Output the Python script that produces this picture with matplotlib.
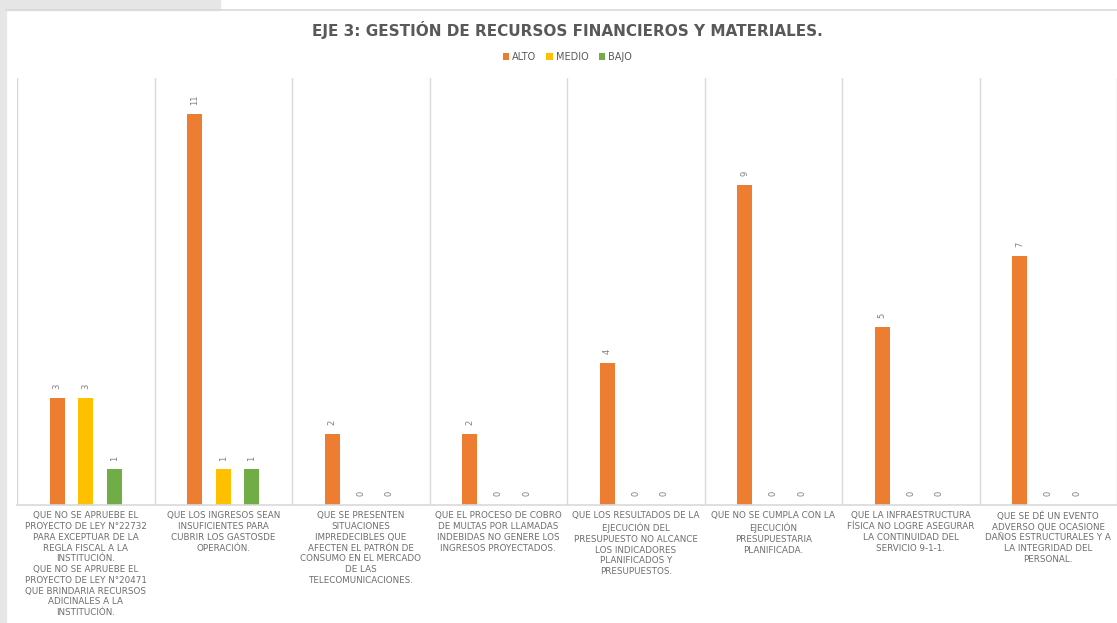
import matplotlib.pyplot as plt
import numpy as np

# chart data
categorias = [
    "QUE NO SE APRUEBE EL\nPROYECTO DE LEY N°22732\nPARA EXCEPTUAR DE LA\nREGLA FISCAL A LA\nINSTITUCIÓN.\nQUE NO SE APRUEBE EL\nPROYECTO DE LEY N°20471\nQUE BRINDARIA RECURSOS\nADICINALES A LA\nINSTITUCIÓN.",
    "QUE LOS INGRESOS SEAN\nINSUFICIENTES PARA\nCUBRIR LOS GASTOSDE\nOPERACIÓN.",
    "QUE SE PRESENTEN\nSITUACIONES\nIMPREDECIBLES QUE\nAFECTEN EL PATRÓN DE\nCONSUMO EN EL MERCADO\nDE LAS\nTELECOMUNICACIONES.",
    "QUE EL PROCESO DE COBRO\nDE MULTAS POR LLAMADAS\nINDEBIDAS NO GENERE LOS\nINGRESOS PROYECTADOS.",
    "QUE LOS RESULTADOS DE LA\nEJECUCIÓN DEL\nPRESUPUESTO NO ALCANCE\nLOS INDICADORES\nPLANIFICADOS Y\nPRESUPUESTOS.",
    "QUE NO SE CUMPLA CON LA\nEJECUCIÓN\nPRESUPUESTARIA\nPLANIFICADA.",
    "QUE LA INFRAESTRUCTURA\nFÍSICA NO LOGRE ASEGURAR\nLA CONTINUIDAD DEL\nSERVICIO 9-1-1.",
    "QUE SE DÉ UN EVENTO\nADVERSO QUE OCASIONE\nDAÑOS ESTRUCTURALES Y A\nLA INTEGRIDAD DEL\nPERSONAL.",
]
alto = [3, 11, 2, 2, 4, 9, 5, 7]
medio = [3, 1, 0, 0, 0, 0, 0, 0]
bajo = [1, 1, 0, 0, 0, 0, 0, 0]

series = [("ALTO", alto, "#ED7D31"), ("MEDIO", medio, "#FFC000"), ("BAJO", bajo, "#70AD47")]

fig = plt.figure(figsize=(11.17, 6.23), dpi=100)
fig.patch.set_facecolor("white")

# grey window frame around the chart (screenshot)
fig.patches.append(plt.Rectangle((0, 0), 6 / 1117, 1, transform=fig.transFigure,
                                 color="#E7E6E6", zorder=0))
fig.patches.append(plt.Rectangle((0, 1 - 10 / 623), 220 / 1117, 10 / 623,
                                 transform=fig.transFigure, color="#E7E6E6", zorder=0))
fig.lines.append(plt.Line2D([6 / 1117, 1], [1 - 10 / 623, 1 - 10 / 623],
                            transform=fig.transFigure, color="#D9D9D9", lw=1.2))

ax = fig.add_axes([17 / 1117, (623 - 505) / 623, 1 - 17 / 1117, (505 - 78) / 623])
x = np.arange(len(categorias))
offs = [-0.207, 0, 0.207]
w = 0.11
for (name, vals, col), o in zip(series, offs):
    bars = ax.bar(x + o, vals, w, color=col, label=name, zorder=2)
    for b, v in zip(bars, vals):
        ax.text(b.get_x() + b.get_width() / 2, v + 0.25, str(v), rotation=90,
                ha="center", va="bottom", fontsize=6, color="#7F7F7F")

ax.set_xlim(-0.5, len(categorias) - 0.5)
ax.set_ylim(0, 12)
ax.set_yticks([])
ax.set_xticks([])
for s in ["top", "right", "left"]:
    ax.spines[s].set_visible(False)
ax.spines["bottom"].set_color("#D9D9D9")
ax.spines["bottom"].set_linewidth(1.2)
for i in range(len(categorias) + 1):
    ax.axvline(i - 0.5, color="#D9D9D9", lw=1, zorder=1)

for i, c in enumerate(categorias):
    ax.text(i, -0.18, c, ha="center", va="top", fontsize=6.3, color="#6E6E6E",
            linespacing=1.25, transform=ax.transData, fontfamily="DejaVu Sans")

fig.text(0.508, 1 - 30 / 623, "EJE 3: GESTIÓN DE RECURSOS FINANCIEROS Y MATERIALES.",
         ha="center", va="center", fontsize=11, fontweight="bold", color="#595959")
fig.legend(loc="center", bbox_to_anchor=(0.508, 1 - 57 / 623), ncol=3, frameon=False,
           fontsize=7, handlelength=0.7, handleheight=0.7, handletextpad=0.3,
           columnspacing=1.0, labelcolor="#595959")

fig.savefig("out.png", dpi=100)
